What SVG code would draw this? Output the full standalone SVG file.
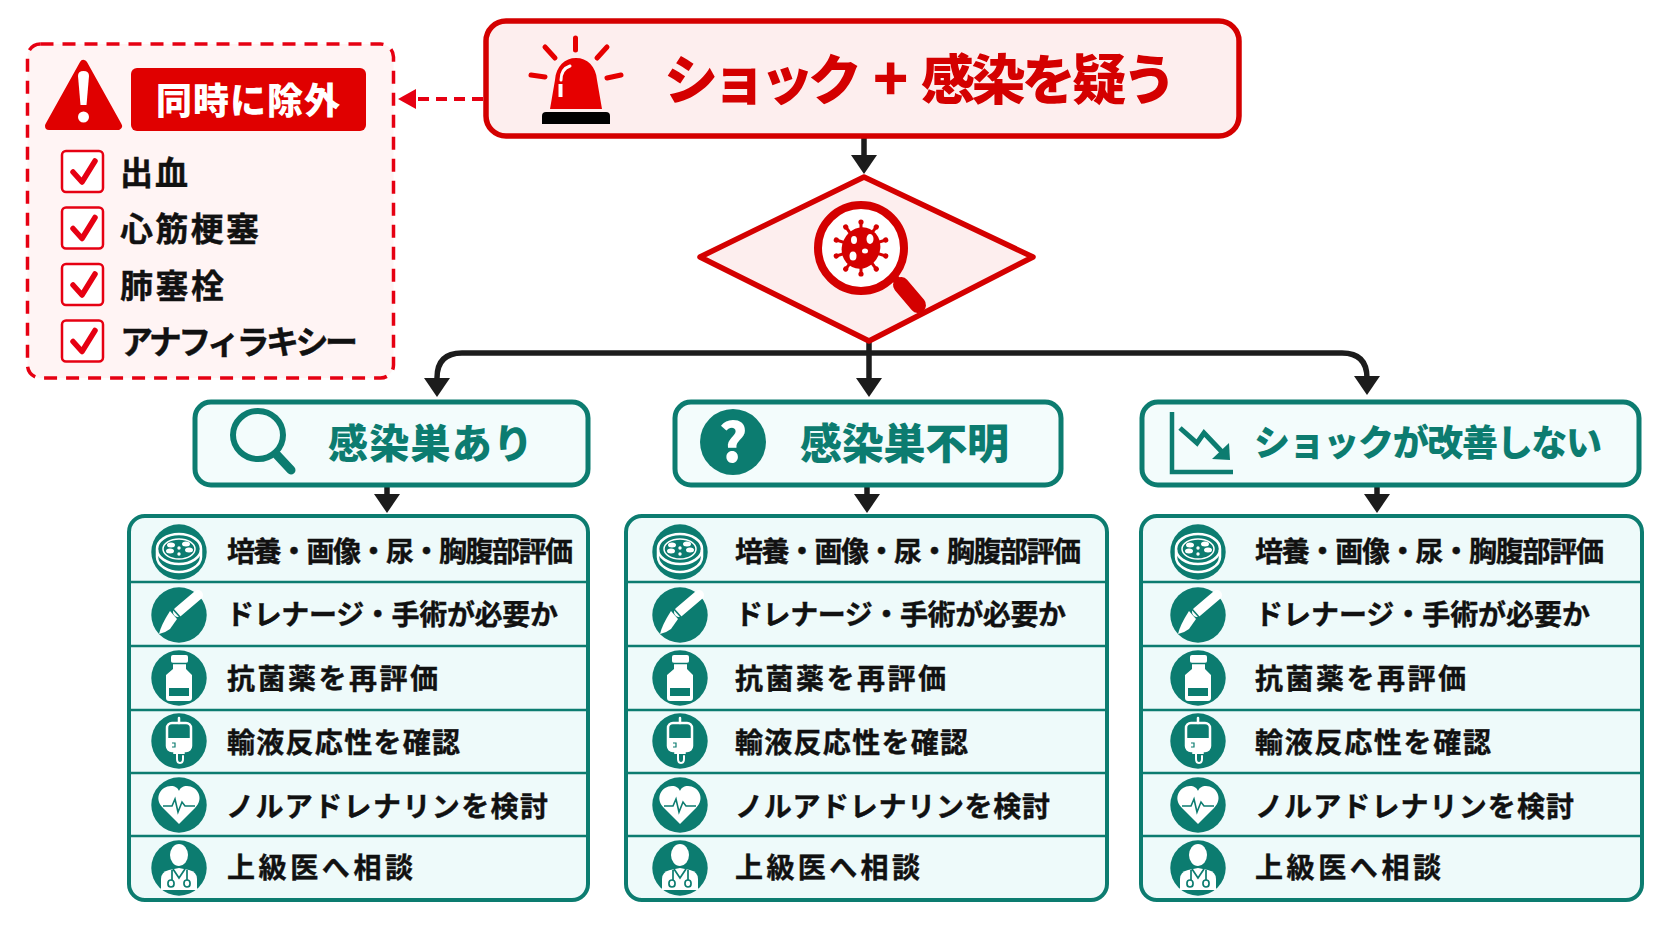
<svg xmlns="http://www.w3.org/2000/svg" width="1672" height="941" viewBox="0 0 1672 941">
<style>
text{font-family:"Noto Sans CJK JP","Noto Sans CJK SC","Noto Sans",sans-serif;font-weight:900}
.red{fill:#d40000}
.teal{fill:#0c7c70}
.row{fill:#111;font-size:28px;font-weight:700;stroke:#111;stroke-width:.4}
.chk{font-size:33px;fill:#111;font-weight:700;stroke:#111;stroke-width:.4}
.box{fill:#fdeeee;stroke:#d40000;stroke-width:5.5}
.branch{fill:#f3fcfc;stroke:#0c7c70;stroke-width:5}
.list{fill:#eefafa;stroke:#0c7c70;stroke-width:4}
.sep{stroke:#0c7c70;stroke-width:2.5;fill:none}
.conn{fill:none;stroke:#1c1c1c;stroke-width:5.5}
.cb{fill:#fff;stroke:#e60012;stroke-width:2.5}
.ck{fill:none;stroke:#e60012;stroke-width:5.5;stroke-linecap:round;stroke-linejoin:round}
.w{fill:none;stroke:#fff;stroke-linecap:round;stroke-linejoin:round}
.ray{stroke:#e60000;stroke-width:5;stroke-linecap:round;fill:none}
</style>
<defs>
<marker id="head" markerUnits="userSpaceOnUse" markerWidth="20" markerHeight="28" refX="9" refY="14" orient="auto"><polygon points="0,1 19,14 0,27" fill="#1c1c1c"/></marker>
<marker id="rhead" markerUnits="userSpaceOnUse" markerWidth="19" markerHeight="22" refX="8" refY="11" orient="auto"><polygon points="0,1 18,11 0,21" fill="#e60012"/></marker>
<circle id="disc" r="27.7" fill="#0c7c70"/>
<g id="i-dish"><use href="#disc"/>
<ellipse cy="-3" rx="22" ry="15" class="w" stroke-width="2.5"/>
<path d="M-22 -2V5C-22 14-10 20 0 20S22 14 22 5V-2" class="w" stroke-width="2.5"/>
<ellipse cy="-3" rx="16" ry="10" class="w" stroke-width="1.5"/>
<g fill="#fff"><ellipse cx="-8" cy="-7" rx="4" ry="2.5"/><ellipse cx="7" cy="-8" rx="4" ry="2.5"/><ellipse cx="-9" cy="-1" rx="4" ry="2.5"/><ellipse cx="10" cy="-2" rx="4" ry="2.5"/><circle cy="-4" r="1.7"/><circle cy="2" r="1.7"/></g></g>
<g id="i-scalpel"><use href="#disc"/>
<path d="M-1 -3L19 -20" class="w" stroke-width="10"/>
<path d="M-9 -4L-2 4L-9 14Q-14 18-20 19Q-18 10-9 -4Z" fill="#fff"/>
<path d="M-7 -7L1 2" stroke="#0c7c70" stroke-width="1.6"/></g>
<g id="i-bottle"><use href="#disc"/>
<rect x="-8" y="-23" width="17" height="8" rx="2" fill="#fff"/>
<path d="M-6 -14H7V-9L13 -3V20Q13 23 10 23H-10Q-13 23-13 20V-3L-6 -9Z" fill="#fff"/>
<rect x="-10" y="10" width="20" height="8" fill="#0c7c70"/>
<path d="M-8 -14.500H9" stroke="#0c7c70" stroke-width="1.5"/></g>
<g id="i-iv"><use href="#disc"/>
<path d="M0 -23V-18" class="w" stroke-width="2.5"/>
<rect x="-12" y="-18" width="24" height="28" rx="5" class="w" stroke-width="2.5"/>
<path d="M-12 -3H12V6Q12 10 8 10H-8Q-12 10-12 6Z" fill="#fff"/>
<path d="M-2 10V18Q-2 22 1 22T4 18V15M-5 12H5" class="w" stroke-width="2"/>
<path d="M-7 2H-4V6H-7" stroke="#0c7c70" stroke-width="1.2" fill="none"/></g>
<g id="i-heart"><use href="#disc"/>
<path d="M0 19L-16 3C-26 -7-18 -19-8 -19C-4 -19-1 -17 0 -14C1 -17 4 -19 8 -19C18 -19 26 -7 16 3Z" fill="#fff"/>
<path d="M-16 1H-7L-4 -6L-1 7L3 -3L6 1H16" fill="none" stroke="#0c7c70" stroke-width="1.6"/></g>
<g id="i-doc"><use href="#disc"/>
<ellipse cy="-13" rx="9" ry="11" fill="#fff"/>
<path d="M-18 22V11Q-18 4-10 2L0 0L10 2Q18 4 18 11V22Z" fill="#fff"/>
<path d="M-6 1L0 10L6 1M-7 2V12M8 2V12" fill="none" stroke="#0c7c70" stroke-width="1.7"/>
<rect x="-11" y="12" width="6" height="7" rx="3" fill="none" stroke="#0c7c70" stroke-width="1.7"/>
<rect x="5" y="12" width="6" height="7" rx="3" fill="none" stroke="#0c7c70" stroke-width="1.7"/></g>
<g id="chk"><rect x="0" y="0" width="41" height="41" rx="4" class="cb"/><path d="M11 21L20 31L33 10" class="ck"/></g>
<g id="spike"><path d="M0 -18V-26" stroke="#d40000" stroke-width="3"/><circle cy="-26" r="2.6" fill="#d40000"/></g>
</defs>
<rect width="1672" height="941" fill="#fff"/>

<g id="connectors">
<path class="conn" d="M864 137V164" marker-end="url(#head)"/>
<path d="M483 99H408" fill="none" stroke="#e60012" stroke-width="4" stroke-dasharray="11 7" marker-end="url(#rhead)"/>
<path class="conn" d="M462 353Q437 353 437 378V387" marker-end="url(#head)"/>
<path class="conn" d="M462 353H1342Q1367 353 1367 378V385" marker-end="url(#head)"/>
<path class="conn" d="M869 342V387" marker-end="url(#head)"/>
<path class="conn" d="M387 487V503" marker-end="url(#head)"/>
<path class="conn" d="M867 487V503" marker-end="url(#head)"/>
<path class="conn" d="M1377 487V503" marker-end="url(#head)"/>
</g>

<g id="exclude">
<rect x="27.5" y="44" width="366" height="334" rx="13" fill="#fff4f4" stroke="#e60012" stroke-width="3.5" stroke-dasharray="13 9"/>
<path d="M83.5 64L118 126H49Z" fill="#e00000" stroke="#e00000" stroke-width="8" stroke-linejoin="round"/>
<path d="M78 76Q78 71 83.5 71T89 76L86.5 105H80.5Z" fill="#fff"/>
<circle cx="83.5" cy="117" r="5.5" fill="#fff"/>
<rect x="131" y="68" width="235" height="63" rx="6" fill="#e00000"/>
<text x="156" y="114" font-size="36" fill="#fff" textLength="184">同時に除外</text>
<use href="#chk" x="62" y="151"/><text class="chk" x="120" y="184.500" textLength="68">出血</text>
<use href="#chk" x="62" y="207.500"/><text class="chk" x="120" y="241" textLength="139">心筋梗塞</text>
<use href="#chk" x="62" y="264"/><text class="chk" x="120" y="298" textLength="104">肺塞栓</text>
<use href="#chk" x="62" y="320.500"/><text class="chk" x="120" y="354" textLength="238">アナフィラキシー</text>
</g>

<g id="top">
<rect x="486" y="21" width="753" height="115" rx="20" class="box"/>
<g class="ray"><path d="M575.500 38V50M545 47L555 58M607 47L597 58M531 75L545 77M621 75L607 78"/></g>
<path d="M550 109L555 80C556 66 565 58 576 58C587 58 596 66 597 80L602 109Z" fill="#e60000"/>
<path d="M561 80C561 73 564 68 570 66" fill="none" stroke="#fff" stroke-width="3" stroke-linecap="round"/>
<path d="M560.500 84V97" stroke="#fff" stroke-width="4"/>
<path d="M542 116Q542 112 546 112H606Q610 112 610 116V124H542Z" fill="#000"/>
<text class="red" y="100" font-size="54"><tspan x="664" letter-spacing="-6">ショック</tspan> <tspan x="873" font-size="58">+</tspan> <tspan x="921" letter-spacing="-3.6">感染を疑う</tspan></text>
</g>

<g id="diamond">
<polygon points="700,257 864,177 1033,257 869,341" fill="#fdeeee" stroke="#d40000" stroke-width="5.500" stroke-linejoin="round"/>
<circle cx="861" cy="248" r="43" fill="#fff" stroke="#d40000" stroke-width="8"/>
<path d="M894 277L899 283" stroke="#d40000" stroke-width="8"/>
<path d="M901 285L918 305" stroke="#d40000" stroke-width="16" stroke-linecap="round"/>
<g transform="translate(861 248)">
<ellipse rx="19" ry="21" fill="#d40000" transform="rotate(25)"/>
<use href="#spike"/><use href="#spike" transform="rotate(36)"/><use href="#spike" transform="rotate(72)"/><use href="#spike" transform="rotate(108)"/><use href="#spike" transform="rotate(144)"/><use href="#spike" transform="rotate(180)"/><use href="#spike" transform="rotate(216)"/><use href="#spike" transform="rotate(252)"/><use href="#spike" transform="rotate(288)"/><use href="#spike" transform="rotate(324)"/>
<g fill="#fff"><ellipse cx="9" cy="-9" rx="3.500" ry="5"/><ellipse cx="-7" cy="-8" rx="3" ry="4"/><ellipse cx="4" cy="3" rx="3" ry="2.500"/><ellipse cx="-8" cy="8" rx="3.500" ry="4.500"/></g>
</g>
</g>

<g id="branch-a">
<rect x="195" y="402" width="393" height="83" rx="16" class="branch"/>
<ellipse cx="258" cy="435" rx="25" ry="24" fill="none" stroke="#0c7c70" stroke-width="6"/>
<path d="M277 455L291 470" stroke="#0c7c70" stroke-width="9" stroke-linecap="round"/>
<text class="teal" x="328" y="458" font-size="40" textLength="205">感染巣あり</text>
</g>
<g id="branch-b">
<rect x="675" y="402" width="386" height="83" rx="16" class="branch"/>
<circle cx="733" cy="442" r="33" fill="#0c7c70"/>
<text x="733" y="462" font-size="54" fill="#fff" text-anchor="middle">?</text>
<text class="teal" x="800" y="459" font-size="42" textLength="209">感染巣不明</text>
</g>
<g id="branch-c">
<rect x="1142" y="402" width="497" height="83" rx="16" class="branch"/>
<path d="M1172 412V472H1233" fill="none" stroke="#0c7c70" stroke-width="4.500"/>
<path d="M1180 428L1197 443L1204 433L1224 454" fill="none" stroke="#0c7c70" stroke-width="5"/>
<polygon points="1230,460 1212,459 1229,443" fill="#0c7c70"/>
<text class="teal" x="1254" y="456" font-size="36" textLength="348">ショックが改善しない</text>
</g>

<g id="list-a">
<rect x="129" y="516" width="459" height="384" rx="16" class="list"/>
<path class="sep" d="M129 582H588M129 646H588M129 710H588M129 773H588M129 836H588"/>
<use href="#i-dish" x="179" y="552"/><use href="#i-scalpel" x="179" y="615"/><use href="#i-bottle" x="179" y="678"/><use href="#i-iv" x="179" y="741"/><use href="#i-heart" x="179" y="805"/><use href="#i-doc" x="179" y="868"/>
<text class="row" x="227" y="562" textLength="346">培養・画像・尿・胸腹部評価</text>
<text class="row" x="226" y="625" textLength="332">ドレナージ・手術が必要か</text>
<text class="row" x="227" y="689" textLength="211">抗菌薬を再評価</text>
<text class="row" x="227" y="753" textLength="233">輸液反応性を確認</text>
<text class="row" x="226" y="817" textLength="322">ノルアドレナリンを検討</text>
<text class="row" x="227" y="878" textLength="186">上級医へ相談</text>
</g>
<g id="list-b">
<rect x="626" y="516" width="481" height="384" rx="16" class="list"/>
<path class="sep" d="M626 582H1107M626 646H1107M626 710H1107M626 773H1107M626 836H1107"/>
<use href="#i-dish" x="680" y="552"/><use href="#i-scalpel" x="680" y="615"/><use href="#i-bottle" x="680" y="678"/><use href="#i-iv" x="680" y="741"/><use href="#i-heart" x="680" y="805"/><use href="#i-doc" x="680" y="868"/>
<text class="row" x="735" y="562" textLength="346">培養・画像・尿・胸腹部評価</text>
<text class="row" x="735" y="625" textLength="331">ドレナージ・手術が必要か</text>
<text class="row" x="735" y="689" textLength="211">抗菌薬を再評価</text>
<text class="row" x="735" y="753" textLength="233">輸液反応性を確認</text>
<text class="row" x="735" y="817" textLength="315">ノルアドレナリンを検討</text>
<text class="row" x="735" y="878" textLength="185">上級医へ相談</text>
</g>
<g id="list-c">
<rect x="1141" y="516" width="501" height="384" rx="16" class="list"/>
<path class="sep" d="M1141 582H1642M1141 646H1642M1141 710H1642M1141 773H1642M1141 836H1642"/>
<use href="#i-dish" x="1198" y="552"/><use href="#i-scalpel" x="1198" y="615"/><use href="#i-bottle" x="1198" y="678"/><use href="#i-iv" x="1198" y="741"/><use href="#i-heart" x="1198" y="805"/><use href="#i-doc" x="1198" y="868"/>
<text class="row" x="1255" y="562" textLength="349">培養・画像・尿・胸腹部評価</text>
<text class="row" x="1255" y="625" textLength="335">ドレナージ・手術が必要か</text>
<text class="row" x="1255" y="689" textLength="211">抗菌薬を再評価</text>
<text class="row" x="1255" y="753" textLength="236">輸液反応性を確認</text>
<text class="row" x="1255" y="817" textLength="319">ノルアドレナリンを検討</text>
<text class="row" x="1255" y="878" textLength="186">上級医へ相談</text>
</g>
</svg>
